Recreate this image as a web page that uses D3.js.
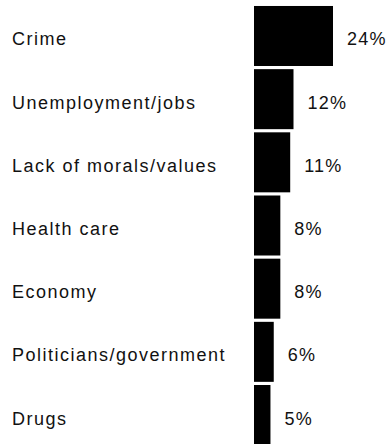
<!DOCTYPE html>
<html>
<head>
<meta charset="utf-8">
<script src="https://cdn.jsdelivr.net/npm/d3@7"></script>
<style>
  html, body { margin: 0; padding: 0; background: #fff; }
  svg { display: block; }
  text { font-family: "Liberation Sans", Arial, Helvetica, sans-serif; fill: #111; }
</style>
</head>
<body>
<script>
// Most important problems, share of respondents (%)
const categories = [
  "Crime",
  "Unemployment/jobs",
  "Lack of morals/values",
  "Health care",
  "Economy",
  "Politicians/government",
  "Drugs"
];
const values = [24, 12, 11, 8, 8, 6, 5];
const valueLabels = ["24%", "12%", "11%", "8%", "8%", "6%", "5%"];

const W = 388, H = 444;
const svg = d3.select("body").append("svg")
  .attr("width", W).attr("height", H);

const x = d3.scaleLinear().domain([0, 24]).range([254, 333]);
const y = d3.scaleBand()
  .domain(categories)
  .range([4.4, 446.6])
  .paddingInner(0.05)
  .paddingOuter(0.025);

const rows = categories.map((c, i) => ({ c, v: values[i], lab: valueLabels[i] }));

// baseline sits a little below the bar's middle
const baseline = d => y(d.c) + y.bandwidth() / 2 + 9.5;

svg.selectAll("rect.bar").data(rows).join("rect")
  .attr("class", "bar")
  .attr("x", x(0))
  .attr("y", d => y(d.c))
  .attr("width", d => x(d.v) - x(0))
  .attr("height", y.bandwidth())
  .attr("fill", "#000");

svg.selectAll("text.cat").data(rows).join("text")
  .attr("class", "cat")
  .attr("x", 12)
  .attr("y", baseline)
  .attr("font-size", 18)
  .attr("letter-spacing", 1.5)
  .text(d => d.c);

svg.selectAll("text.val").data(rows).join("text")
  .attr("class", "val")
  .attr("x", d => x(d.v) + 14)
  .attr("y", baseline)
  .attr("font-size", 18)
  .attr("letter-spacing", 1.2)
  .text(d => d.lab);
</script>
</body>
</html>
